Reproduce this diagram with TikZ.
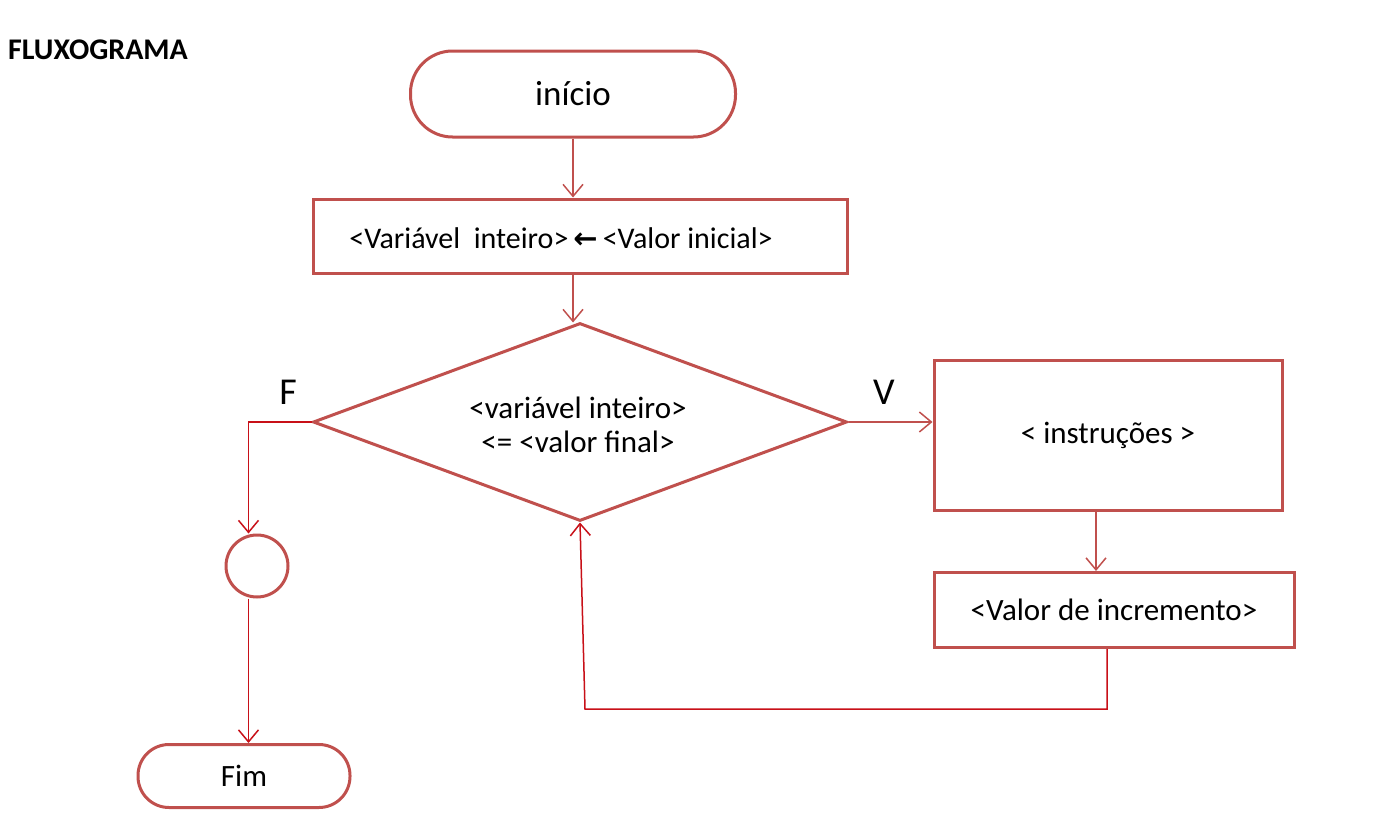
\documentclass[tikz,border=0pt]{standalone}
\usepackage{fontspec}
\setmainfont{Carlito}
\newfontfamily\symfont{DejaVu Sans}
\usetikzlibrary{shapes.geometric,arrows.meta}
\definecolor{boxred}{RGB}{192,80,77}
\definecolor{linered}{RGB}{200,16,24}
\tikzset{
  shapebox/.style={draw=boxred, line width=3pt, fill=white, font=\fontsize{31}{34}\selectfont},
  conn/.style={draw=boxred, line width=1.5pt, -{Straight Barb[length=12pt,width=20pt,line width=1.5pt]}},
  connred/.style={draw=linered, line width=1.5pt, -{Straight Barb[length=12pt,width=20pt,line width=1.5pt]}},
  lbl/.style={font=\fontsize{38}{42}\selectfont}
}
\begin{document}
\begin{tikzpicture}[x=1pt,y=-1pt]
\useasboundingbox (0,0) rectangle (1374,819);
\node[anchor=west, inner sep=0pt, font=\fontsize{30}{34}\selectfont\bfseries] (title) at (8,50) {FLUXOGRAMA};
\node[shapebox, font=\fontsize{35}{40}\selectfont, rounded corners=42pt, minimum width=325pt, minimum height=86pt] (ini) at (573,94) {início};
\node[shapebox, minimum width=534pt, minimum height=74pt] (init) at (580,236) {};
\node[font=\fontsize{30}{34}\selectfont] (inittext) at (561,238) {<Variável\ \ inteiro>\,{\symfont\bfseries\fontsize{29}{30}\selectfont ←}\,<Valor inicial>};
\node[shapebox, diamond, minimum width=534pt, minimum height=198pt, inner sep=0pt, aspect=2.7] (dia) at (580,422) {};
\node[font=\fontsize{31}{34}\selectfont, align=center] (diatext) at (578,425) {<variável inteiro>\\<= <valor final>};
\node[lbl] (F) at (288,392) {F};
\node[lbl] (V) at (884,392) {V};
\node[shapebox, minimum width=348pt, minimum height=150pt] (instr) at (1108,435) {< instruções >};
\node[shapebox, minimum width=360pt, minimum height=75pt] (incr) at (1114,610) {<Valor de incremento>};
\node[draw=boxred, line width=3pt, circle, minimum size=62pt, inner sep=0pt] (circ) at (257,566) {};
\node[shapebox, rounded corners=31pt, minimum width=212pt, minimum height=63pt] (fim) at (244,776) {Fim};
\draw[conn] (ini.south) -- (init.north -| ini.south);
\draw[conn] (init.south -| ini.south) -- ++(0,48);
\draw[conn] (dia.east) -- (dia.east -| instr.west);
\draw[conn] ([xshift=-12pt]instr.south) -- ([xshift=-18pt]incr.north);
\draw[connred] (dia.west) -- ++(-63,0) coordinate (fc) -- (fc |- circ.north);
\draw[connred] (fc |- circ.south) -- (fc |- fim.north);
\coordinate (lp) at (585,709);
\draw[connred] ([xshift=-7pt]incr.south) -- ([xshift=-7pt]incr.south |- lp) -- (lp) -- (dia.south);
\end{tikzpicture}
\end{document}
